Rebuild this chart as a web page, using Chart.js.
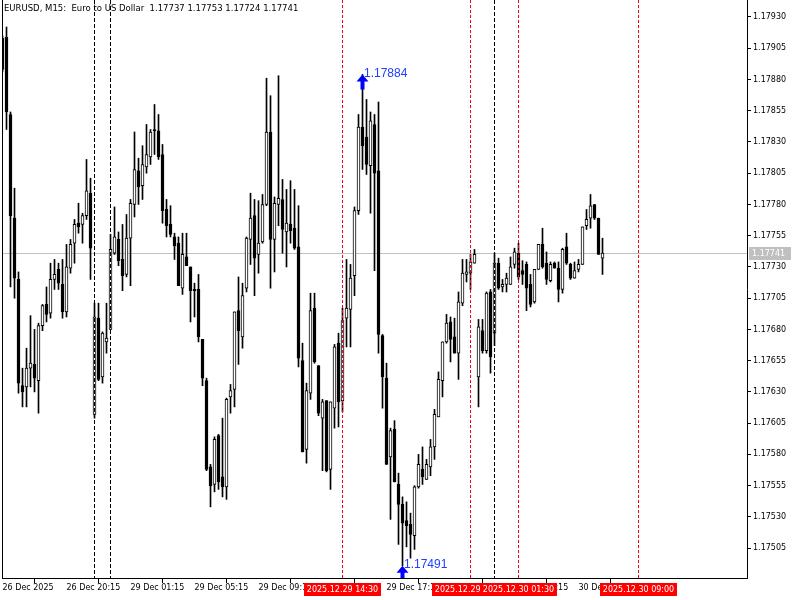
<!DOCTYPE html>
<html>
<head>
<meta charset="utf-8">
<title>EURUSD M15</title>
<script src="https://cdn.jsdelivr.net/npm/chart.js@4.4.1/dist/chart.umd.min.js"></script>
<style>
  html, body { margin: 0; padding: 0; background: #fff; }
  #c { display: block; }
</style>
</head>
<body>
<canvas id="c" width="800" height="600"></canvas>
<script>
/* ---------------- DATA (EURUSD M15, one entry per bar) ---------------- */
const opens = [
  1.17913,1.17914,1.17852,1.17769,1.17720,1.17635,1.17634,1.17649,1.17652,1.17639,
  1.17683,1.17700,1.17693,1.17720,1.17728,1.17716,1.17694,1.17729,1.17749,1.17765,
  1.17764,1.17771,1.17789,1.17612,1.17689,1.17642,1.17670,1.17680,1.17741,1.17752,
  1.17736,1.17724,1.17753,1.17780,1.17807,1.17795,1.17810,1.17818,1.17840,1.17839,
  1.17820,1.17776,1.17764,1.17754,1.17749,1.17713,1.17738,1.17730,1.17712,1.17712,
  1.17672,1.17639,1.17570,1.17556,1.17595,1.17562,1.17554,1.17626,1.17632,1.17695,
  1.17674,1.17713,1.17752,1.17771,1.17740,1.17750,1.17780,1.17838,1.17752,1.17780,
  1.17784,1.17758,1.17764,1.17761,1.17746,1.17655,1.17584,1.17629,1.17697,1.17651,
  1.17609,1.17623,1.17568,1.17617,1.17669,1.17623,1.17689,1.17696,1.17723,1.17775,
  1.17842,1.17834,1.17811,1.17844,1.17807,1.17675,1.17641,1.17578,1.17600,1.17556,
  1.17540,1.17527,1.17524,1.17515,1.17554,1.17568,1.17560,1.17570,1.17586,1.17610,
  1.17639,1.17670,1.17686,1.17674,1.17661,1.17701,1.17724,1.17725,1.17733,1.17642,
  1.17679,1.17663,1.17710,1.17677,1.17733,1.17714,1.17716,1.17716,1.17732,1.17741,
  1.17727,1.17732,1.17716,1.17702,1.17728,1.17748,1.17733,1.17719,1.17733,1.17729,
  1.17712,1.17746,1.17732,1.17721,1.17728,1.17732,1.17763,1.17769,1.17780,1.17769,
  1.17737
];
const highs = [
  1.17915,1.17922,1.17854,1.17793,1.17726,1.17649,1.17665,1.17691,1.17680,1.17685,
  1.17700,1.17714,1.17733,1.17736,1.17733,1.17736,1.17748,1.17752,1.17768,1.17781,
  1.17773,1.17816,1.17801,1.17701,1.17701,1.17678,1.17701,1.17756,1.17778,1.17758,
  1.17764,1.17772,1.17784,1.17838,1.17817,1.17827,1.17844,1.17840,1.17860,1.17852,
  1.17828,1.17784,1.17779,1.17757,1.17754,1.17757,1.17757,1.17730,1.17717,1.17724,
  1.17672,1.17641,1.17572,1.17594,1.17596,1.17609,1.17625,1.17636,1.17694,1.17722,
  1.17717,1.17754,1.17789,1.17784,1.17783,1.17788,1.17881,1.17867,1.17786,1.17883,
  1.17800,1.17792,1.17799,1.17792,1.17779,1.17669,1.17637,1.17709,1.17709,1.17651,
  1.17624,1.17623,1.17622,1.17668,1.17677,1.17697,1.17736,1.17732,1.17778,1.17852,
  1.17884,1.17864,1.17854,1.17852,1.17862,1.17676,1.17653,1.17601,1.17607,1.17565,
  1.17546,1.17542,1.17533,1.17555,1.17580,1.17586,1.17576,1.17592,1.17616,1.17646,
  1.17670,1.17692,1.17690,1.17689,1.17710,1.17736,1.17736,1.17740,1.17744,1.17688,
  1.17688,1.17710,1.17712,1.17741,1.17737,1.17720,1.17725,1.17738,1.17745,1.17749,
  1.17735,1.17734,1.17724,1.17728,1.17748,1.17761,1.17742,1.17734,1.17734,1.17734,
  1.17745,1.17757,1.17733,1.17734,1.17736,1.17762,1.17776,1.17788,1.17780,1.17769,
  1.17753
];
const lows = [
  1.17886,1.17840,1.17714,1.17705,1.17629,1.17618,1.17618,1.17634,1.17630,1.17613,
  1.17679,1.17686,1.17689,1.17712,1.17712,1.17689,1.17690,1.17725,1.17733,1.17757,
  1.17749,1.17768,1.17720,1.17609,1.17639,1.17637,1.17661,1.17680,1.17740,1.17731,
  1.17711,1.17722,1.17715,1.17770,1.17780,1.17784,1.17805,1.17812,1.17820,1.17816,
  1.17765,1.17754,1.17754,1.17736,1.17715,1.17708,1.17731,1.17686,1.17690,1.17670,
  1.17635,1.17567,1.17538,1.17550,1.17552,1.17546,1.17544,1.17613,1.17618,1.17652,
  1.17665,1.17710,1.17732,1.17707,1.17725,1.17749,1.17779,1.17713,1.17726,1.17763,
  1.17741,1.17730,1.17749,1.17744,1.17650,1.17582,1.17573,1.17624,1.17653,1.17611,
  1.17567,1.17566,1.17552,1.17601,1.17602,1.17614,1.17666,1.17666,1.17707,1.17772,
  1.17808,1.17804,1.17773,1.17727,1.17661,1.17617,1.17572,1.17528,1.17558,1.17508,
  1.17491,1.17506,1.17497,1.17504,1.17553,1.17556,1.17560,1.17563,1.17576,1.17610,
  1.17626,1.17669,1.17654,1.17661,1.17640,1.17699,1.17718,1.17712,1.17733,1.17618,
  1.17661,1.17661,1.17645,1.17667,1.17712,1.17710,1.17710,1.17716,1.17729,1.17720,
  1.17716,1.17695,1.17698,1.17701,1.17728,1.17729,1.17716,1.17718,1.17729,1.17702,
  1.17709,1.17732,1.17720,1.17721,1.17726,1.17732,1.17760,1.17761,1.17768,1.17740,
  1.17724
];
const closes = [
  1.17888,1.17854,1.17771,1.17721,1.17637,1.17630,1.17649,1.17653,1.17641,1.17683,
  1.17699,1.17692,1.17720,1.17724,1.17717,1.17694,1.17730,1.17748,1.17764,1.17762,
  1.17771,1.17791,1.17745,1.17690,1.17640,1.17677,1.17673,1.17744,1.17754,1.17735,
  1.17723,1.17753,1.17781,1.17808,1.17794,1.17812,1.17820,1.17838,1.17839,1.17818,
  1.17775,1.17763,1.17756,1.17747,1.17715,1.17740,1.17731,1.17711,1.17711,1.17674,
  1.17641,1.17568,1.17555,1.17592,1.17558,1.17554,1.17624,1.17631,1.17694,1.17679,
  1.17707,1.17753,1.17769,1.17737,1.17749,1.17780,1.17838,1.17752,1.17781,1.17785,
  1.17760,1.17765,1.17759,1.17745,1.17657,1.17582,1.17631,1.17695,1.17654,1.17613,
  1.17622,1.17567,1.17622,1.17666,1.17622,1.17687,1.17697,1.17721,1.17775,1.17842,
  1.17827,1.17812,1.17847,1.17805,1.17676,1.17642,1.17572,1.17599,1.17558,1.17540,
  1.17525,1.17523,1.17516,1.17554,1.17572,1.17562,1.17572,1.17586,1.17612,1.17640,
  1.17670,1.17685,1.17672,1.17661,1.17702,1.17725,1.17726,1.17734,1.17740,1.17682,
  1.17663,1.17709,1.17658,1.17733,1.17713,1.17716,1.17721,1.17730,1.17742,1.17722,
  1.17724,1.17713,1.17700,1.17728,1.17748,1.17730,1.17720,1.17732,1.17729,1.17712,
  1.17744,1.17733,1.17721,1.17727,1.17732,1.17762,1.17768,1.17779,1.17769,1.17740,
  1.17741
];

const priceTicks = [1.17505,1.17530,1.17555,1.17580,1.17605,1.17630,1.17655,1.17680,1.17705,
                    1.17730,1.17755,1.17780,1.17805,1.17830,1.17855,1.17880,1.17905,1.17930];
const timeTickBars = [0,16,32,48,64,80,96,112,128,144];
const timeLabels = ["26 Dec 2025","26 Dec 20:15","29 Dec 01:15","29 Dec 05:15","29 Dec 09:15",
                    "29 Dec 13:15","29 Dec 17:15","29 Dec 21:15","30 Dec 01:15","30 Dec 05:15"];

const separatorBars = [23, 27, 123];
const markerBars = [85, 117, 129, 159];
const markerLabels = ["2025.12.29 14:30","2025.12.29 22:30","2025.12.30 01:30","2025.12.30 09:00"];

const bidPrice = 1.17741;
const highBar = 90, highPrice = 1.17884;
const lowBar = 100, lowPrice = 1.17491;
const title = "EURUSD, M15:  Euro to US Dollar  1.17737 1.17753 1.17724 1.17741";

const FONT = '"DejaVu Sans", sans-serif';

/* ---------------- BUILD DATASETS ---------------- */
const bars = opens.map((o, i) => i);
const bodyData = bars.map(i => ({x: i, y: [opens[i], closes[i]]}));
const wickData = bars.map(i => ({x: i, y: [lows[i], highs[i]]}));
const bodyColors = bars.map(i => closes[i] >= opens[i] ? "#ffffff" : "#000000");

/* ---------------- OVERLAY: lines, labels, arrows ---------------- */
function upArrow(ctx, x, y) {
    ctx.beginPath();
    ctx.moveTo(x, y);
    ctx.lineTo(x + 6, y + 7);
    ctx.lineTo(x + 2, y + 7);
    ctx.lineTo(x + 2, y + 15);
    ctx.lineTo(x - 2, y + 15);
    ctx.lineTo(x - 2, y + 7);
    ctx.lineTo(x - 6, y + 7);
    ctx.closePath();
    ctx.fill();
}

const overlay = {
    id: "mtOverlay",
    beforeDatasetsDraw(chart) {
        const {ctx, chartArea: a, scales: {y}} = chart;
        const py = Math.round(y.getPixelForValue(bidPrice)) + 0.5;
        ctx.save();
        ctx.strokeStyle = "#c0c0c0";
        ctx.lineWidth = 1;
        ctx.beginPath();
        ctx.moveTo(a.left, py);
        ctx.lineTo(a.right, py);
        ctx.stroke();
        ctx.restore();
    },
    afterDatasetsDraw(chart) {
        const {ctx, chartArea: a, scales: {x}} = chart;
        ctx.save();
        ctx.beginPath();
        ctx.rect(a.left, a.top, a.right - a.left, a.bottom - a.top);
        ctx.clip();
        ctx.lineWidth = 1;

        ctx.strokeStyle = "#000000";
        ctx.setLineDash([4, 2]);
        separatorBars.forEach(b => {
            const px = Math.floor(x.getPixelForValue(b)) + 0.5;
            ctx.beginPath();
            ctx.moveTo(px, a.top);
            ctx.lineTo(px, a.bottom);
            ctx.stroke();
        });

        ctx.strokeStyle = "#ff0000";
        ctx.setLineDash([3, 2]);
        markerBars.forEach(b => {
            const px = Math.floor(x.getPixelForValue(b)) + 0.5;
            ctx.beginPath();
            ctx.moveTo(px, a.top);
            ctx.lineTo(px, a.bottom);
            ctx.stroke();
        });
        ctx.restore();
    },
    afterDraw(chart) {
        const {ctx, chartArea: a, scales: {x, y}} = chart;
        ctx.save();

        // left frame
        ctx.strokeStyle = "#000";
        ctx.lineWidth = 1;
        ctx.beginPath();
        ctx.moveTo(a.left + 0.5, a.top);
        ctx.lineTo(a.left + 0.5, a.bottom);
        ctx.stroke();

        // title
        ctx.fillStyle = "#000";
        ctx.font = "8.5px " + FONT;
        ctx.textBaseline = "top";
        ctx.textAlign = "left";
        ctx.fillText(title, 4, 5);

        // high / low arrows
        ctx.save();
        ctx.beginPath();
        ctx.rect(a.left, a.top, a.right - a.left, a.bottom - a.top);
        ctx.clip();
        ctx.fillStyle = "#0000ff";
        const hx = x.getPixelForValue(highBar), hy = y.getPixelForValue(highPrice);
        const lx = x.getPixelForValue(lowBar), ly = y.getPixelForValue(lowPrice);
        upArrow(ctx, hx, hy);
        upArrow(ctx, lx, ly);
        ctx.fillStyle = "#2040ff";
        ctx.font = '12px "Liberation Sans", sans-serif';
        ctx.textBaseline = "middle";
        ctx.fillText(highPrice.toFixed(5), hx + 1.5, hy - 1);
        ctx.fillText(lowPrice.toFixed(5), lx + 1.5, ly - 1);
        ctx.restore();

        // bid price box on the price axis
        const by = y.getPixelForValue(bidPrice);
        ctx.fillStyle = "#c0c0c0";
        ctx.fillRect(a.right + 2, Math.round(by) - 6, 42, 13);
        ctx.fillStyle = "#ffffff";
        ctx.font = "8px " + FONT;
        ctx.textBaseline = "middle";
        ctx.fillText(bidPrice.toFixed(5), a.right + 5, by + 0.5);

        // red time boxes under the marker lines
        ctx.font = "8px " + FONT;
        ctx.textAlign = "center";
        markerBars.forEach((b, k) => {
            const px = Math.floor(x.getPixelForValue(b)) + 0.5;
            const w = ctx.measureText(markerLabels[k]).width + 6;
            ctx.fillStyle = "#ff0000";
            ctx.fillRect(Math.round(px - w / 2), a.bottom + 5, Math.round(w), 13);
            ctx.fillStyle = "#ffffff";
            ctx.fillText(markerLabels[k], px, a.bottom + 12);
        });
        ctx.restore();
    }
};

/* ---------------- CHART ---------------- */
new Chart(document.getElementById("c"), {
    type: "bar",
    data: {
        datasets: [
            {
                label: "body",
                data: bodyData,
                backgroundColor: bodyColors,
                borderColor: "#000000",
                borderWidth: 1,
                borderSkipped: false,
                barThickness: 3,
                grouped: false,
                clip: 0
            },
            {
                label: "wick",
                data: wickData,
                backgroundColor: "#000000",
                borderWidth: 0,
                barThickness: 1,
                grouped: false,
                clip: 0
            }
        ]
    },
    options: {
        responsive: false,
        animation: false,
        devicePixelRatio: 1,
        layout: { padding: { left: 2, top: 0, right: 0, bottom: 0 } },
        plugins: { legend: { display: false }, tooltip: { enabled: false } },
        scales: {
            x: {
                type: "linear",
                position: "bottom",
                min: -0.125,
                max: 186.125,
                offset: false,
                afterBuildTicks: s => { s.ticks = timeTickBars.map(v => ({ value: v })); },
                afterFit: s => { s.height = 22; s.paddingLeft = 0; s.paddingRight = 0; },
                grid: { drawOnChartArea: false, drawTicks: true, tickLength: 5, color: "#000" },
                border: { display: true, color: "#000" },
                ticks: {
                    autoSkip: false, maxRotation: 0, minRotation: 0, align: "start",
                    padding: 0, color: "#000", font: { family: FONT, size: 8 },
                    callback: v => timeLabels[timeTickBars.indexOf(v)]
                }
            },
            y: {
                type: "linear",
                position: "right",
                min: 1.174811,
                max: 1.179436,
                afterBuildTicks: s => { s.ticks = priceTicks.map(v => ({ value: v })); },
                afterFit: s => { s.width = 53; s.paddingTop = 0; s.paddingBottom = 0; },
                grid: { drawOnChartArea: false, drawTicks: true, tickLength: 4, color: "#000" },
                border: { display: true, color: "#000" },
                ticks: {
                    padding: 2, color: "#000", font: { family: FONT, size: 8 },
                    callback: v => v.toFixed(5)
                }
            }
        }
    },
    plugins: [overlay]
});
</script>
</body>
</html>
